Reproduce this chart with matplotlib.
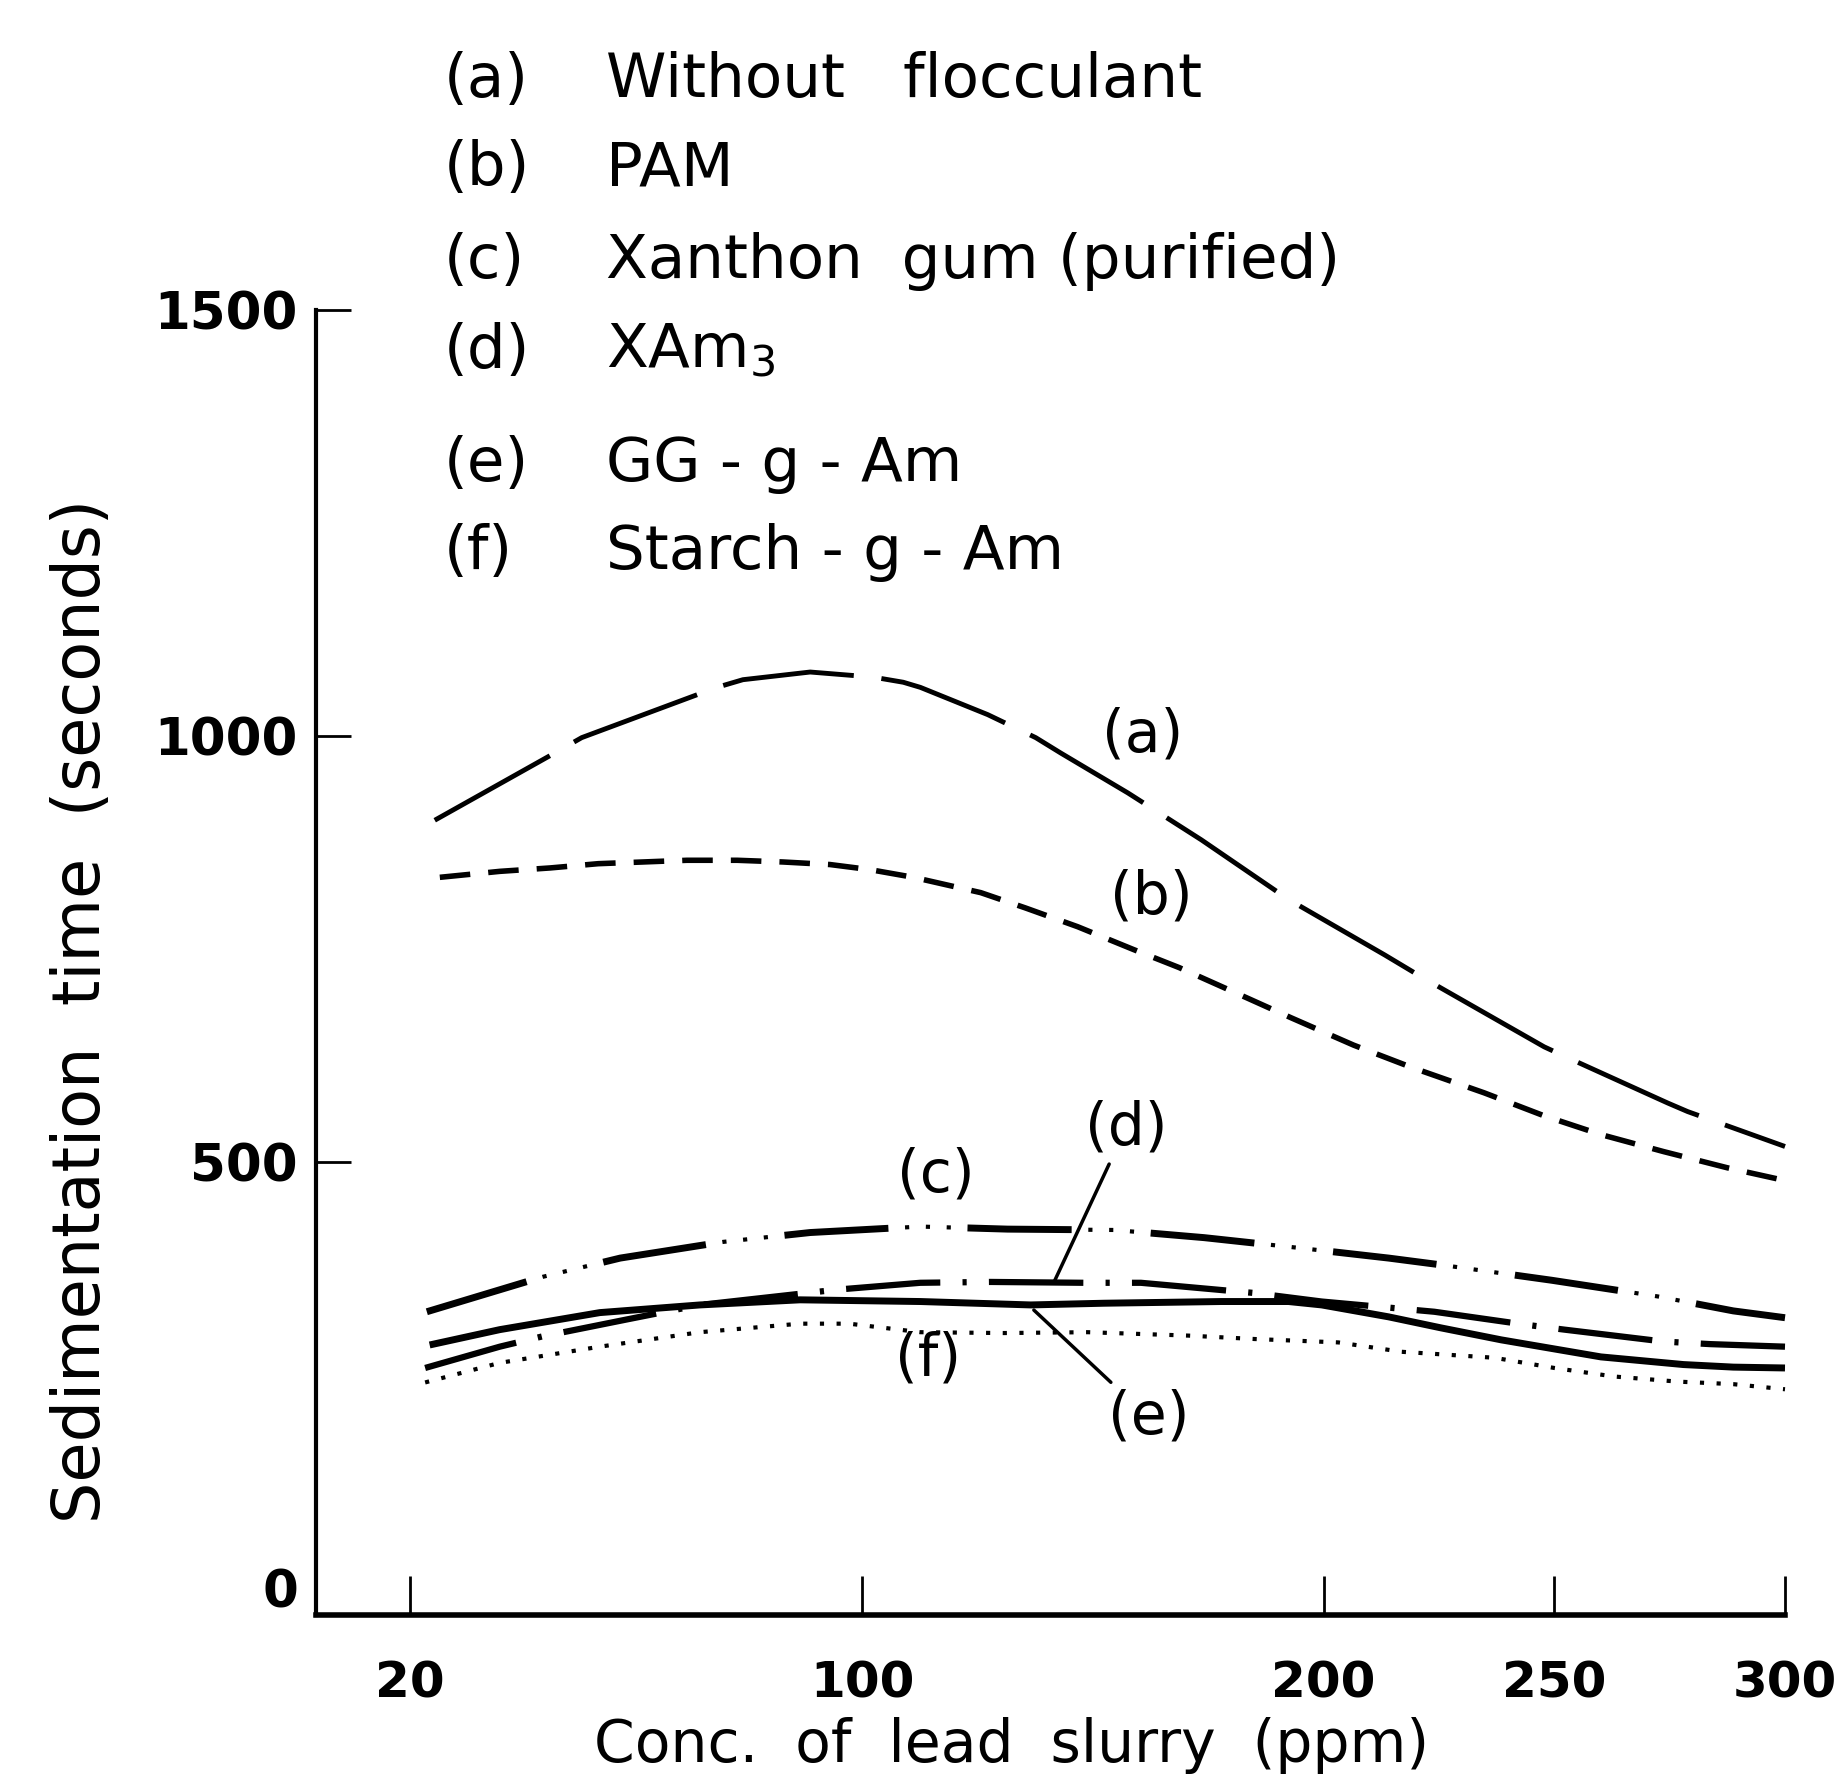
import numpy as np
import matplotlib
matplotlib.use('Agg')
import matplotlib.pyplot as plt

# uneven concentration axis of the original figure
tick_ppm = [20, 100, 200, 250, 300]
tick_pos = [0, 1, 2.02, 2.53, 3.04]
y_ticks = [0, 500, 1000, 1500]

# (a) without flocculant
a_x = [24.4, 45.1, 50.4, 74.3, 78.9, 90.8, 102.4, 108.9, 112.6, 127.2, 137.6, 143, 157.6,
       173.5, 192.4, 213.2, 220.6, 247.8, 253, 274.6, 278.9, 300]
a_y = [901, 978, 998, 1057, 1066, 1075, 1069, 1063, 1057, 1025, 998, 980, 933,
       878, 808, 743, 719, 635, 622, 569, 559, 518]
# (b) PAM
b_x = [25.3, 35.9, 44.8, 53.3, 61.2, 69, 77.9, 86, 94.3, 101.7, 111.1, 125.7, 135.4,
       146.7, 158.9, 168.7, 181.1, 193, 206.5, 219, 234.8, 247.8, 260.1, 273.7, 287.5, 300]
b_y = [834, 841, 845, 850, 852, 854, 854, 852, 849, 843, 834, 816, 798,
       776, 749, 728, 698, 669, 637, 611, 581, 554, 532, 512, 493, 478]
# (c) xanthan gum
c_x = [23, 43.5, 57.2, 75.4, 90.8, 112.6, 131.5, 154.6, 174.1, 194.6, 214.1, 225.5,
       233.5, 249.4, 272.4, 288.8, 300]
c_y = [324, 365, 387, 406, 417, 424, 421, 420, 411, 399, 387, 379,
       373, 361, 342, 325, 317]
# (d) XAm3
d_x = [22.7, 35.9, 43.4, 58.4, 71.3, 95.6, 112.6, 127.8, 148, 160.4, 185, 199.6,
       224, 243.5, 252.2, 273.7, 283.8, 300]
d_y = [258, 283, 295, 315, 332, 350, 358, 359, 358, 358, 346, 336,
       324, 309, 303, 289, 286, 283]
# (e) GG-g-Am
e_x = [23.5, 35.9, 53.6, 71.3, 89, 112.6, 136.5, 152.4, 177.8, 192.4, 199.6, 214.1,
       225.5, 238.5, 260.1, 278, 288.8, 300]
e_y = [285, 303, 323, 332, 338, 336, 332, 334, 336, 336, 332, 318,
       305, 291, 271, 262, 259, 258]
# (f) Starch-g-Am
f_x = [22.7, 35.9, 53.6, 71.3, 89, 97.7, 112.6, 130.7, 148.9, 170.7, 185, 203.2,
       216.9, 237, 250, 262.9, 276.7, 288.8, 300]
f_y = [241, 264, 283, 300, 310, 310, 300, 299, 300, 296, 292, 288,
       277, 270, 258, 248, 242, 239, 233]

legend_keys = ['(a)', '(b)', '(c)', '(d)', '(e)', '(f)']
legend_names = ['Without   flocculant', 'PAM', 'Xanthon  gum (purified)',
                r'XAm$_3$', 'GG - g - Am', 'Starch - g - Am']

W, H = 1835, 1777
plt.rcParams['lines.scale_dashes'] = False
plt.rcParams['font.family'] = ['DejaVu Sans']


def fwd(x):
    ppm = [-60] + tick_ppm + [350]
    pos = [-1] + tick_pos + [3.55]
    return np.interp(x, ppm, pos)


def inv(p):
    ppm = [-60] + tick_ppm + [350]
    pos = [-1] + tick_pos + [3.55]
    return np.interp(p, pos, ppm)


fig = plt.figure(figsize=(W / 100, H / 100), dpi=100)
ax = fig.add_axes([316 / W, 1 - 1615 / H, (1785 - 316) / W, (1615 - 310) / H])
ax.set_xscale('function', functions=(fwd, inv))
ax.set_xlim(3.4, 300)
ax.set_ylim(-32, 1500)

k = dict(color='black', clip_on=False, solid_capstyle='butt', dash_capstyle='butt')
ax.plot(a_x, a_y, lw=3.5, dashes=(95, 20), **k)
ax.plot(b_x, b_y, lw=4, dashes=(22, 13), **k)
# (c): heavy dashes with three small dots in each gap
ax.plot(c_x, c_y, lw=5, dashes=(75, 57), **k)
ax.plot(c_x, c_y, lw=3, linestyle=(45, (3, 12, 3, 12, 3, 99)), **k)
ax.plot(d_x, d_y, lw=4.5, dashes=(68, 16, 3, 16), **k)
ax.plot(e_x, e_y, lw=5, **k)
ax.plot(f_x, f_y, lw=3, dashes=(3, 9), **k)

ax.spines['top'].set_visible(False)
ax.spines['right'].set_visible(False)
ax.spines['left'].set_linewidth(3)
ax.spines['bottom'].set_linewidth(4)

ax.set_xticks(tick_ppm)
ax.set_xticklabels([str(t) for t in tick_ppm])
ax.set_yticks(y_ticks)
ax.set_yticklabels([str(t) for t in y_ticks])
ax.minorticks_off()
ax.tick_params(axis='x', direction='in', length=28, width=2, pad=32, labelsize=36)
ax.tick_params(axis='y', direction='in', length=25, width=2, pad=13, labelsize=37)
ax.yaxis.get_major_ticks()[0].tick1line.set_visible(False)
for lbl in ax.get_xticklabels() + ax.get_yticklabels():
    lbl.set_fontweight('bold')

fig.text(82 / W, 1 - 1011 / H, 'Sedimentation  time  (seconds)', rotation=90,
         ha='center', va='center', fontsize=47)
fig.text(1012 / W, 1 - 1746 / H, 'Conc.  of  lead  slurry  (ppm)',
         ha='center', va='center', fontsize=42)

rows = [75, 163, 256, 346, 459, 547]
for key, name, ry in zip(legend_keys, legend_names, rows):
    fig.text(444 / W, 1 - (ry + 22) / H, key, ha='left', va='baseline', fontsize=44)
    fig.text(606 / W, 1 - (ry + 22) / H, name, ha='left', va='baseline', fontsize=44)

lab = dict(ha='center', va='center', fontsize=42)
ax.text(160.7, 1001, '(a)', **lab)
ax.text(162.6, 811, '(b)', **lab)
ax.text(116, 484, '(c)', **lab)
ax.text(114.3, 268, '(f)', **lab)
ax.annotate('(d)', xy=(141.5, 358), xytext=(157.2, 540), textcoords='data',
            arrowprops=dict(arrowstyle='-', lw=2.5, color='black', shrinkA=4, shrinkB=0), **lab)
ax.annotate('(e)', xy=(137.2, 326), xytext=(162, 200), textcoords='data',
            arrowprops=dict(arrowstyle='-', lw=2.5, color='black', shrinkA=4, shrinkB=0), **lab)

fig.savefig('out.png', dpi=100)
